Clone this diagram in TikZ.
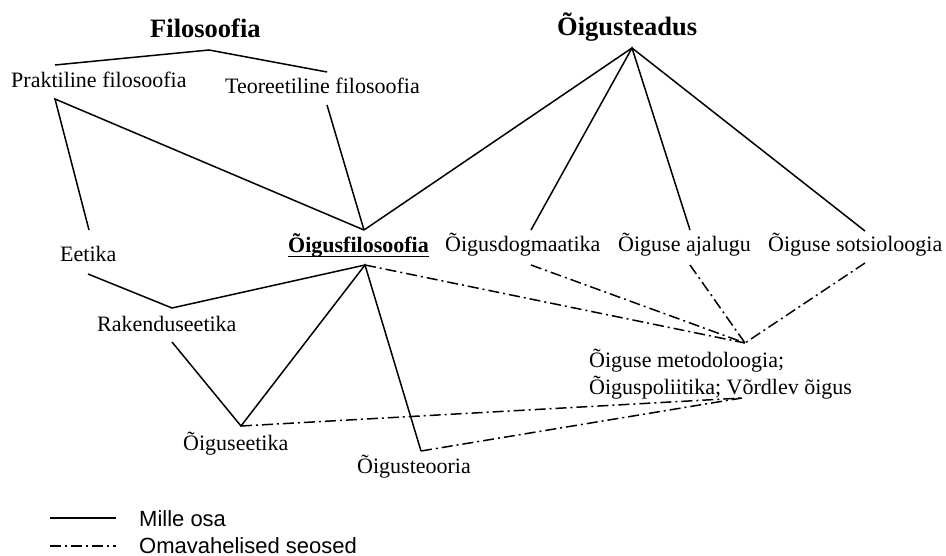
\documentclass[tikz,border=0pt]{standalone}
\usepackage{fontspec}
\setmainfont{Liberation Serif}
\setsansfont{Liberation Sans}
\begin{document}
\begin{tikzpicture}[x=1pt,y=-1pt,
  lbl/.style={inner sep=0pt, anchor=base west, font=\fontsize{22}{26}\selectfont},
  head/.style={inner sep=0pt, anchor=base west, font=\fontsize{26.5}{30}\selectfont\bfseries},
  leg/.style={inner sep=0pt, anchor=base west, font=\sffamily\fontsize{22}{26}\selectfont},
  part/.style={line width=1.5pt, line join=miter},
  rel/.style={line width=1.5pt, dash pattern=on 11pt off 4pt on 2pt off 4pt},
  uline/.style={line width=1.8pt}]
\useasboundingbox (0,0) rectangle (946,556);
% texts
\node[head] (filo) at (150,38) {Filosoofia};
\node[head] (oteadus) at (557,36) {Õigusteadus};
\node[lbl] (prakt) at (11,88) {Praktiline filosoofia};
\node[lbl] (teor) at (225,94) {Teoreetiline filosoofia};
\node[lbl,font=\fontsize{22}{26}\selectfont\bfseries] (ofilo) at (288,253) {Õigusfilosoofia};
\node[lbl] (eetika) at (60,262) {Eetika};
\node[lbl] (odogm) at (445,252) {Õigusdogmaatika};
\node[lbl] (oajal) at (618,252) {Õiguse ajalugu};
\node[lbl] (osots) at (768,252) {Õiguse sotsioloogia};
\node[lbl] (raken) at (97,331) {Rakenduseetika};
\node[lbl] (oeet) at (183,450) {Õiguseetika};
\node[lbl] (oteo) at (357,473) {Õigusteooria};
\node[lbl] (ometo) at (589,367) {Õiguse metodoloogia;};
\node[lbl] (opol) at (589,394) {Õiguspoliitika; Võrdlev õigus};
\node[leg] (l1) at (139,526) {Mille osa};
\node[leg] (l2) at (139,553) {Omavahelised seosed};
% underline of Õigusfilosoofia
\draw[uline] ([yshift=-3.5pt]ofilo.base west) -- ([yshift=-3.5pt]ofilo.base east);
% junction points
\coordinate (fApex) at (209,50);
\coordinate (pTop) at (55,65);
\coordinate (tTop) at (327,72);
\coordinate (pBot) at (55,99);
\coordinate (tBot) at (327,105);
\coordinate (eTop) at (89,230);
\coordinate (ofTop) at (364,230);
\coordinate (oApex) at (632,48);
\coordinate (odTop) at (531,230);
\coordinate (oaTop) at (690,230);
\coordinate (osTop) at (865,231);
\coordinate (eBot) at (88,274);
\coordinate (rApex) at (172,308);
\coordinate (ofBot) at (365,265);
\coordinate (rBot) at (172,342);
\coordinate (oeApex) at (241,426);
\coordinate (otApex) at (421,451);
\coordinate (odBot) at (531,265);
\coordinate (oaBot) at (690,265);
\coordinate (osBot) at (865,263);
\coordinate (mTop) at (745,343);
\coordinate (mBot) at (742,398);
\coordinate (la1) at (50,518);
\coordinate (lb1) at (116,518);
\coordinate (la2) at (50,546);
\coordinate (lb2) at (116,546);
% part-of lines
\draw[part] (pTop) -- (fApex) -- (tTop);
\draw[part] (eTop) -- (pBot) -- (ofTop);
\draw[part] (tBot) -- (ofTop);
\draw[part] (ofTop) -- (oApex);
\draw[part] (odTop) -- (oApex) -- (oaTop);
\draw[part] (oApex) -- (osTop);
\draw[part] (eBot) -- (rApex) -- (ofBot);
\draw[part] (rBot) -- (oeApex) -- (ofBot) -- (otApex);
% relations
\draw[rel] (ofBot) -- (mTop);
\draw[rel] (odBot) -- (mTop);
\draw[rel] (oaBot) -- (mTop);
\draw[rel] (osBot) -- (mTop);
\draw[rel] (oeApex) -- (mBot);
\draw[rel] (otApex) -- (mBot);
% legend
\draw[part] (la1) -- (lb1);
\draw[rel] (la2) -- (lb2);
\end{tikzpicture}
\end{document}
